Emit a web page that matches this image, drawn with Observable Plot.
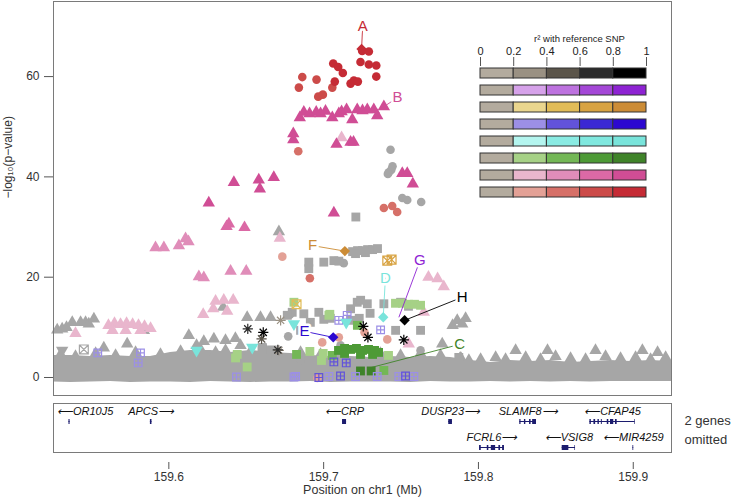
<!DOCTYPE html>
<html>
<head>
<meta charset="utf-8">
<script src="https://cdn.jsdelivr.net/npm/d3@7"></script>
<script src="https://cdn.jsdelivr.net/npm/@observablehq/plot@0.6"></script>
<style>
  html, body { margin: 0; padding: 0; background: #fff; }
  #wrap { position: relative; width: 733px; height: 503px; overflow: hidden; background:#fff; }
  #wrap > svg { position: absolute; }
</style>
</head>
<body>
<div id="wrap"></div>
<script>
// ---------------- DATA ----------------
const xDomain = [159.5255, 159.9247];          // chr1 position (Mb)
const yDomain = [-3.59, 74.97];                // -log10(p)
const yTicks = [0, 20, 40, 60];
const xTicks = [159.6, 159.7, 159.8, 159.9];
const r2Breaks = [0, 0.2, 0.4, 0.6, 0.8, 1];
const legendSets = ["H", "G", "F", "E", "D", "C", "B", "A"];

// [position Mb, -log10 p, r2]
const snpsA = [ // circles
 [159.7249,65.1,0.9],[159.7292,65.0,0.9],[159.7238,62.9,0.9],[159.7292,62.4,0.9],[159.7340,62.2,0.9],[159.7340,60.0,0.9],[159.7062,62.6,0.9],[159.7094,61.9,0.9],[159.7124,60.7,0.9],[159.7072,59.0,0.9],[159.7174,58.6,0.9],[159.7195,59.2,0.9],[159.7221,59.0,0.9],
 [159.6862,59.9,0.7],[159.6954,59.4,0.7],[159.6840,57.8,0.7],[159.7056,57.8,0.7],[159.6965,56.0,0.7],[159.6995,56.4,0.7],
 [159.6836,45.1,0.5],[159.7389,33.8,0.5],[159.7443,34.2,0.5],[159.7475,33.0,0.5],[159.6733,24.1,0.3],[159.6911,19.8,0.5],
 [159.6991,7.0,0.3],[159.7411,7.6,0.3],[159.7264,9.0,0.3],[159.7098,8.0,0.3],[159.6959,-0.1,0.3],
 [159.7432,45.4,0.1],[159.7421,40.9,0.1],[159.7437,41.4,0.1],[159.7445,42.1,0.1],[159.7415,40.6,0.1],[159.7508,35.8,0.1],[159.7540,35.4,0.1],[159.7630,35.0,0.1],[159.7130,22.8,0.1],[159.6771,8.2,0.1],[159.6782,12.5,0.1],[159.7626,5.4,0.1],[159.6851,3.4,0.1],[159.7109,6.4,0.1]
];
const snpsB = [ // triangles
 [159.6872,52.9,0.9],[159.6846,51.8,0.9],[159.6909,52.6,0.9],[159.6952,52.9,0.9],[159.6980,52.6,0.9],[159.7012,53.1,0.9],[159.7056,51.8,0.9],[159.7098,52.6,0.9],[159.7116,53.0,0.9],[159.7148,53.4,0.9],[159.7185,51.4,0.9],[159.7217,53.4,0.9],[159.7251,53.2,0.9],[159.7282,53.4,0.9],[159.7324,53.4,0.9],[159.7346,52.2,0.9],[159.7389,54.0,0.9],
 [159.6804,48.6,0.9],[159.6804,47.4,0.9],[159.7083,46.5,0.9],[159.7174,46.9,0.9],[159.7193,46.9,0.9],[159.7508,40.7,0.9],[159.7540,40.7,0.9],[159.7576,38.6,0.9],[159.6678,39.9,0.9],[159.6420,38.9,0.9],[159.6581,39.4,0.9],[159.6588,37.6,0.9],[159.6258,34.8,0.9],[159.7066,32.8,0.9],
 [159.6388,30.6,0.7],[159.6373,30.1,0.7],[159.6489,29.9,0.7],
 [159.5914,25.9,0.5],[159.5968,25.9,0.5],[159.6065,26.3,0.5],[159.6108,27.7,0.5],[159.6127,27.1,0.5],[159.6194,20.1,0.5],[159.6226,19.9,0.5],[159.6399,21.2,0.5],[159.6500,21.2,0.5],
 [159.7116,47.8,0.3],[159.6717,27.8,0.3],[159.6302,15.2,0.3],[159.6355,15.4,0.3],[159.6416,15.4,0.3],[159.6287,13.7,0.3],[159.6377,13.2,0.3],[159.6222,12.6,0.3],
 [159.5610,10.4,0.3],[159.5649,10.8,0.3],[159.5688,10.6,0.3],[159.5727,10.8,0.3],[159.5766,10.6,0.3],[159.5804,10.4,0.3],[159.5843,10.2,0.3],[159.5882,9.8,0.3],[159.5636,9.4,0.3],[159.5721,9.4,0.3],[159.5817,9.4,0.3],[159.5397,8.8,0.3],
 [159.7677,20.0,0.3],[159.7776,18.1,0.3],[159.7736,19.7,0.3],[159.7647,13.0,0.3],[159.7550,6.7,0.3],
 [159.5279,9.5,0.1],[159.5311,9.7,0.1],[159.5339,10.0,0.1],[159.5376,11.0,0.1],[159.5430,11.0,0.1],[159.5462,11.0,0.1],[159.5483,10.7,0.1],[159.5516,11.7,0.1],[159.5731,6.7,0.1],[159.5580,5.9,0.1],[159.5839,9.4,0.1],[159.6506,12.0,0.1],[159.6592,12.0,0.1],[159.6657,12.0,0.1],[159.6351,14.0,0.1],[159.6711,29.1,0.1],[159.6129,8.4,0.1],[159.6226,7.2,0.1],[159.6291,7.7,0.1],[159.6179,6.4,0.1],[159.6366,7.4,0.1],[159.6430,7.8,0.1],[159.6463,6.4,0.1],[159.7863,11.4,0.1],[159.7895,10.7,0.1],[159.7917,11.8,0.1],[159.7833,10.4,0.1],[159.7766,6.7,0.1],[159.7938,3.4,0.1],[159.8240,5.4,0.1],[159.8446,5.4,0.1],[159.8756,5.4,0.1],[159.9059,5.4,0.1],[159.9157,5.0,0.1],
 [159.5301,4.6,0.1],[159.5397,4.2,0.1],[159.5527,4.8,0.1],[159.5656,4.4,0.1],[159.5785,5.0,0.1],[159.5946,4.6,0.1],[159.6076,5.2,0.1],[159.6205,5.6,0.1],[159.6302,5.0,0.1],[159.6366,5.4,0.1],[159.6528,5.2,0.1],[159.6625,5.6,0.1],[159.6851,5.0,0.1],[159.6980,4.6,0.1],[159.7109,4.8,0.1],[159.7238,4.4,0.1],[159.7367,4.8,0.1],[159.7497,4.4,0.1],[159.7626,4.8,0.1],[159.7755,4.4,0.1],[159.7884,4.0,0.1],[159.8014,3.6,0.1],[159.8111,4.0,0.1],[159.8175,3.6,0.1],[159.8305,4.0,0.1],[159.8401,3.6,0.1],[159.8498,4.2,0.1],[159.8595,3.8,0.1],[159.8692,3.6,0.1],[159.8821,4.2,0.1],[159.8918,3.8,0.1],[159.9015,4.0,0.1],[159.9112,3.6,0.1],[159.9209,4.0,0.1]
];
const snpsC = [ // squares
 [159.7238,1.3,0.9],[159.7307,1.3,0.9],
 [159.7096,5.4,0.7],[159.7135,5.8,0.7],[159.7174,5.6,0.7],[159.7212,5.8,0.7],[159.7251,5.4,0.7],[159.7290,5.6,0.7],[159.7329,5.4,0.7],[159.7355,5.0,0.7],[159.7135,4.8,0.7],[159.7238,4.6,0.7],[159.7316,4.6,0.7],
 [159.7218,10.4,0.5],[159.7389,1.4,0.5],[159.6825,4.6,0.5],[159.7056,4.4,0.5],
 [159.7464,14.8,0.3],[159.7510,14.8,0.3],[159.7548,14.6,0.3],[159.7587,14.6,0.3],[159.7626,14.4,0.3],[159.6808,15.0,0.3],[159.7040,12.6,0.3],[159.6911,5.2,0.3],[159.6997,4.8,0.3],[159.6986,3.4,0.3],[159.6442,4.6,0.3],[159.6431,3.9,0.3],[159.6506,2.1,0.3],[159.7419,4.4,0.3],[159.7034,12.4,0.3],
 [159.7187,25.1,0.1],[159.7219,25.3,0.1],[159.7251,25.3,0.1],[159.7284,25.5,0.1],[159.7316,25.5,0.1],[159.7348,25.7,0.1],[159.7206,24.7,0.1],[159.7270,24.9,0.1],[159.6904,23.0,0.1],[159.6904,21.7,0.1],[159.7001,23.0,0.1],[159.7066,23.3,0.1],[159.7098,23.2,0.1],[159.7208,32.0,0.1],[159.7217,15.0,0.1],[159.7282,14.7,0.1],[159.7389,14.7,0.1],[159.6872,12.7,0.1],[159.6969,13.0,0.1],[159.7174,13.7,0.1],[159.6797,13.0,0.1],[159.6765,12.4,0.1],[159.6603,6.0,0.1],[159.6636,4.7,0.1],[159.6603,5.4,0.1],[159.6668,5.5,0.1],[159.7873,4.0,0.1],[159.7001,11.6,0.1],[159.7230,11.8,0.1],[159.7300,12.8,0.1],
 [159.7239,15.4,0.1],[159.7497,15.0,0.1],[159.7548,14.2,0.1],[159.7043,11.8,0.1],[159.6914,11.0,0.1],[159.7465,9.4,0.1],[159.7626,9.4,0.1],[159.6851,9.4,0.1],[159.7174,11.4,0.1]
];
const snpsD = [ // down triangles
 [159.6179,5.4,0.9],[159.6539,6.0,0.9],[159.6808,10.7,0.9],[159.7146,11.0,0.9],[159.5311,5.4,0.1]
];
const snpsE = [ // grid squares
 [159.5541,4.9,0.3],[159.5817,4.9,0.3],[159.5802,2.9,0.3],[159.6437,0.1,0.3],[159.6808,0.1,0.3],[159.7098,11.4,0.3],[159.7152,12.4,0.3],[159.7368,9.5,0.3],[159.6819,0.2,0.3],[159.7034,0.2,0.3],[159.7206,0.2,0.3],[159.7346,0.2,0.3],[159.7486,0.2,0.3],[159.7583,0.2,0.3],
 [159.7066,3.1,0.5],[159.7146,2.9,0.5],[159.6969,0.0,0.5],[159.7109,0.3,0.5],[159.7529,0.3,0.5]
];
const snpsF = [ // boxed crosses
 [159.6825,14.6,0.5],[159.7411,23.3,0.7],[159.7439,23.5,0.7],[159.5451,5.6,0.1]
];
const snpsH = [ // asterisks
 [159.7256,10.2,0.9],[159.7286,8.0,0.9],[159.7518,7.5,0.9],[159.6610,9.0,0.9],[159.6510,9.7,0.7],[159.6704,5.5,0.7],[159.6599,7.7,0.5],[159.6722,11.4,0.3],[159.6711,5.4,0.3]
];

// dense cloud of background SNPs: envelope read along the position axis
const bandPos = [159.5255,159.5365,159.5494,159.5624,159.5753,159.5882,159.6011,159.6140,159.6270,159.6399,159.6528,159.6657,159.6786,159.6916,159.7045,159.7174,159.7303,159.7432,159.7561,159.7691,159.7820,159.7949,159.8078,159.8207,159.8337,159.8466,159.8595,159.8724,159.8853,159.8982,159.9112,159.9247];
const bandTop = [4.4,4.4,4.2,4.4,4.2,4.2,5.0,5.4,5.4,5.0,5.4,5.0,4.8,4.4,4.2,4.2,4.0,4.2,4.0,4.2,4.0,3.4,3.0,3.4,3.2,3.4,3.0,3.2,3.4,3.2,3.4,3.2];
const bandBottom = [-0.9,-1.0,-0.9,-0.8,-1.0,-0.9,-0.9,-1.0,-0.8,-0.9,-1.0,-0.9,-0.9,-0.8,-1.0,-0.9,-0.9,-0.9,-1.0,-0.8,-0.9,-0.9,-0.8,-0.9,-0.8,-0.9,-0.8,-0.9,-0.8,-0.8,-0.8,-0.8];

// index SNP annotations
const annLabel = ["A","B","C","D","E","F","G","H"];
const annLabelPos = [159.7252,159.7477,159.7878,159.7399,159.6877,159.6928,159.7622,159.7895];
const annLabelLogp = [70.0,55.8,6.6,19.9,9.2,26.3,23.3,16.0];
const annSnpPos = [159.7245,159.7389,159.7284,159.7385,159.7062,159.7137,159.7486,159.7523];
const annSnpLogp = [65.5,54.0,1.8,12.0,8.0,25.2,12.0,11.4];
const annDiamond = [true,false,false,true,true,true,false,true];

// genes
const geneNames = ["OR10J5","APCS","CRP","DUSP23","SLAMF8","CFAP45","FCRL6","VSIG8","MIR4259"];
const geneStart = [159.5355,159.5881,159.7122,159.7808,159.8267,159.8720,159.8007,159.8541,159.8998];
const geneEnd   = [159.5362,159.5891,159.7148,159.7832,159.8375,159.9012,159.8168,159.8627,159.9003];
const geneStrand = ["-","+","-","+","+","-","+","-","-"];
const geneRow = [1,1,1,1,1,1,2,2,2];
const exonGene  = ["OR10J5","APCS","CRP","DUSP23","SLAMF8","SLAMF8","SLAMF8","SLAMF8","CFAP45","CFAP45","CFAP45","CFAP45","CFAP45","CFAP45","CFAP45","CFAP45","FCRL6","FCRL6","FCRL6","FCRL6","FCRL6","VSIG8","VSIG8","MIR4259"];
const exonStart = [159.5355,159.5881,159.7122,159.7808,159.8267,159.8297,159.8330,159.8350,159.8720,159.8746,159.8772,159.8794,159.8832,159.8853,159.8885,159.9008,159.8007,159.8057,159.8083,159.8132,159.8156,159.8541,159.8623,159.8998];
const exonEnd   = [159.5362,159.5891,159.7148,159.7832,159.8275,159.8306,159.8340,159.8375,159.8729,159.8757,159.8781,159.8800,159.8842,159.8874,159.8896,159.9012,159.8018,159.8067,159.8111,159.8143,159.8168,159.8584,159.8627,159.9003];
const omittedNote = "2 genes\nomitted";

// ---------------- STYLE ----------------
const FONT = '"Liberation Sans", Arial, Helvetica, sans-serif';
const GRAY = "#a6a6a6", LOW = "#b3ab9e", NAVY = "#1c1c6e";
const palette = {
  H: ["#9a9183","#5b554a","#2b2b2b","#000000"],
  G: ["#d6a2ea","#bd72df","#a447d7","#8e23d3"],
  F: ["#ead68e","#e1bc58","#d8a342","#cc8c36"],
  E: ["#9c8fe6","#6253da","#3b28d3","#2c08d0"],
  D: ["#b4f5ef","#8aebe3","#80e8df","#79e4db"],
  C: ["#a6d186","#73b756","#4d9a36","#3f8329"],
  B: ["#e9b6cd","#e08db9","#db69a5","#d04d95"],
  A: ["#e3a196","#d67068","#cc4b49","#c52b35"]
};
const colorDomain = ["bg0","low0"], colorRange = [GRAY, LOW];
for (const s of legendSets) palette[s].forEach((c, i) => { colorDomain.push(s + (i + 1)); colorRange.push(c); });
const colorScale = {type: "ordinal", domain: colorDomain, range: colorRange};

const SQ3 = Math.sqrt(3);
const downTriangle = {draw(c, size) { const y = -Math.sqrt(size / (SQ3 * 3)); c.moveTo(0, -2 * y); c.lineTo(-SQ3 * y, y); c.lineTo(SQ3 * y, y); c.closePath(); }};
const gridSquare = {draw(c, size) { const h = Math.sqrt(size) / 2; c.moveTo(-h,-h); c.lineTo(h,-h); c.lineTo(h,h); c.lineTo(-h,h); c.closePath(); c.moveTo(-h,0); c.lineTo(h,0); c.moveTo(0,-h); c.lineTo(0,h); }};
const boxCross = {draw(c, size) { const h = Math.sqrt(size) / 2; c.moveTo(-h,-h); c.lineTo(h,-h); c.lineTo(h,h); c.lineTo(-h,h); c.closePath(); c.moveTo(-h,-h); c.lineTo(h,h); c.moveTo(-h,h); c.lineTo(h,-h); }};
const star8 = {draw(c, size) { const a = Math.sqrt(size) * 0.6, b = a * 0.7071; c.moveTo(-a,0); c.lineTo(a,0); c.moveTo(0,-a); c.lineTo(0,a); c.moveTo(-b,-b); c.lineTo(b,b); c.moveTo(-b,b); c.lineTo(b,-b); }};

const shapes = {
  B: {symbol: "triangle", r: 4.6, filled: true},
  A: {symbol: "circle", r: 4.3, filled: true},
  C: {symbol: "square", r: 5.0, filled: true},
  E: {symbol: gridSquare, r: 4.3, filled: false},
  D: {symbol: downTriangle, r: 4.6, filled: true},
  F: {symbol: boxCross, r: 5.0, filled: false},
  H: {symbol: star8, r: 4.8, filled: false}
};
const seriesData = {A: snpsA, B: snpsB, C: snpsC, D: snpsD, E: snpsE, F: snpsF, H: snpsH};

const binOf = r2 => d3.bisectRight(r2Breaks, r2) - 1;
const pts = [];
for (const [set, rows] of Object.entries(seriesData)) {
  for (const [pos, logp, r2] of rows) {
    const b = binOf(r2);
    pts.push({set, pos, logp, r2, key: b === 0 ? "bg0" : set + b});
  }
}
const dotMark = (data, set) => {
  const s = shapes[set];
  return Plot.dot(data, {
    x: "pos", y: "logp", symbol: s.symbol, r: s.r,
    fill: s.filled ? "key" : "none",
    stroke: s.filled ? "none" : "key",
    strokeWidth: s.filled ? undefined : 1.2
  });
};
const order = ["B","A","C","E","D","F","H"];
const grayMarks = order.map(set => dotMark(pts.filter(d => d.set === set && d.key === "bg0"), set));
const colMarks = order.map(set => dotMark(pts.filter(d => d.set === set && d.key !== "bg0").sort((a, b) => a.r2 - b.r2), set));

const band = bandPos.map((pos, i) => ({pos, lo: bandBottom[i], hi: bandTop[i]}));
const ann = annLabel.map((label, i) => ({label, lx: annLabelPos[i], ly: annLabelLogp[i], sx: annSnpPos[i], sy: annSnpLogp[i], diamond: annDiamond[i], key: label + "4"}));

// ---------------- MAIN PANEL ----------------
const main = Plot.plot({
  width: 733, height: 400,
  marginLeft: 53, marginRight: 62, marginTop: 1, marginBottom: 5,
  x: {domain: xDomain, axis: null},
  y: {domain: yDomain},
  color: colorScale,
  style: {fontFamily: FONT, fontSize: "12px", color: "#333", background: "white"},
  marks: [
    Plot.areaY(band, {x: "pos", y1: "lo", y2: "hi", fill: GRAY}),
    ...grayMarks,
    ...colMarks,
    Plot.link(ann, {x1: "lx", y1: "ly", x2: "sx", y2: "sy", stroke: "key", strokeWidth: 0.9}),
    Plot.dot(ann.filter(d => d.diamond), {x: "sx", y: "sy", symbol: "diamond2", r: 4.7, fill: "key", stroke: "none"}),
    Plot.text(ann, {x: "lx", y: "ly", text: "label", fill: "white", stroke: "white", strokeWidth: 5, fontSize: 15}),
    Plot.text(ann, {x: "lx", y: "ly", text: "label", fill: "key", fontSize: 15}),
    Plot.axisY({ticks: yTicks, tickSize: 9, tickPadding: 5, label: null, stroke: "#555"}),
    Plot.text(["\u2212log\u2081\u2080(p\u2212value)"], {text: d => d, frameAnchor: "left", rotate: -90, dx: -45, fontSize: 12}),
    Plot.frame({stroke: "#7a7a7a"})
  ]
});
main.style.left = "0px"; main.style.top = "0px";

// ---------------- GENE PANEL ----------------
const pxPerMb = (733 - 53 - 62) / (xDomain[1] - xDomain[0]);
const genes = geneNames.map((name, i) => {
  const label = geneStrand[i] === "+" ? name + "\u27F6" : "\u27F5" + name;
  const half = (label.length * 3.8 + 5) / pxPerMb;
  return {name, label, start: geneStart[i], end: geneEnd[i], row: geneRow[i],
          lpos: Math.max((geneStart[i] + geneEnd[i]) / 2, xDomain[0] + half)};
});
const exons = exonGene.map((g, i) => ({row: geneRow[geneNames.indexOf(g)], start: exonStart[i], end: exonEnd[i]}));

const genePanel = Plot.plot({
  width: 733, height: 103,
  marginLeft: 53, marginRight: 62, marginTop: 3, marginBottom: 41,
  x: {domain: xDomain},
  y: {domain: [1, 2], range: [21, 47], axis: null},
  style: {fontFamily: FONT, fontSize: "12px", color: "#333", background: "transparent"},
  marks: [
    Plot.frame({stroke: "#7a7a7a", insetBottom: 10}),
    Plot.ruleY(genes, {y: "row", x1: "start", x2: "end", stroke: NAVY, strokeWidth: 1}),
    Plot.ruleY(exons, {y: "row", x1: "start", x2: "end", stroke: NAVY, strokeWidth: 5}),
    Plot.text(genes, {x: "lpos", y: "row", text: "label", dy: -10, fontSize: 11, fontStyle: "italic", fill: "#111"}),
    Plot.axisX({ticks: xTicks, tickSize: 7, tickPadding: 3, tickFormat: d3.format(".1f"), label: null, stroke: "#555"}),
    Plot.text(["Position on chr1 (Mb)"], {text: d => d, frameAnchor: "bottom", dy: 31, fontSize: 12.5}),
    Plot.text([omittedNote], {text: d => d, frameAnchor: "top-right", textAnchor: "start", dx: 13, dy: 25, lineAnchor: "middle", lineHeight: 1.5, fontSize: 13})
  ]
});
genePanel.style.left = "0px"; genePanel.style.top = "400px";

// ---------------- LEGEND ----------------
const legendCells = [];
for (const s of legendSets) {
  for (let i = 0; i < r2Breaks.length - 1; i++) {
    legendCells.push({set: s, lo: r2Breaks[i], hi: r2Breaks[i + 1], key: i === 0 ? "low0" : s + i});
  }
}
const legend = Plot.plot({
  width: 190, height: 180,
  marginLeft: 10, marginRight: 14, marginTop: 40, marginBottom: 5,
  x: {domain: [0, 1]},
  y: {type: "band", domain: legendSets, range: [41.7, 173], paddingInner: 0.423, paddingOuter: 0, axis: null},
  color: colorScale,
  style: {fontFamily: FONT, fontSize: "11px", color: "#222", background: "transparent"},
  marks: [
    Plot.axisX({anchor: "top", ticks: r2Breaks, tickSize: 9, tickPadding: 2, tickFormat: d => String(d), label: null, stroke: "#555"}),
    Plot.barX(legendCells, {x1: "lo", x2: "hi", y: "set", fill: "key", stroke: "#333", strokeWidth: 1}),
    Plot.text(["r\u00b2 with reference SNP"], {text: d => d, frameAnchor: "top", dy: -30, dx: 16, fontSize: 9.5})
  ]
});
legend.style.left = "470px"; legend.style.top = "25px";

const wrap = document.getElementById("wrap");
wrap.appendChild(main);
wrap.appendChild(genePanel);
wrap.appendChild(legend);
</script>
</body>
</html>
